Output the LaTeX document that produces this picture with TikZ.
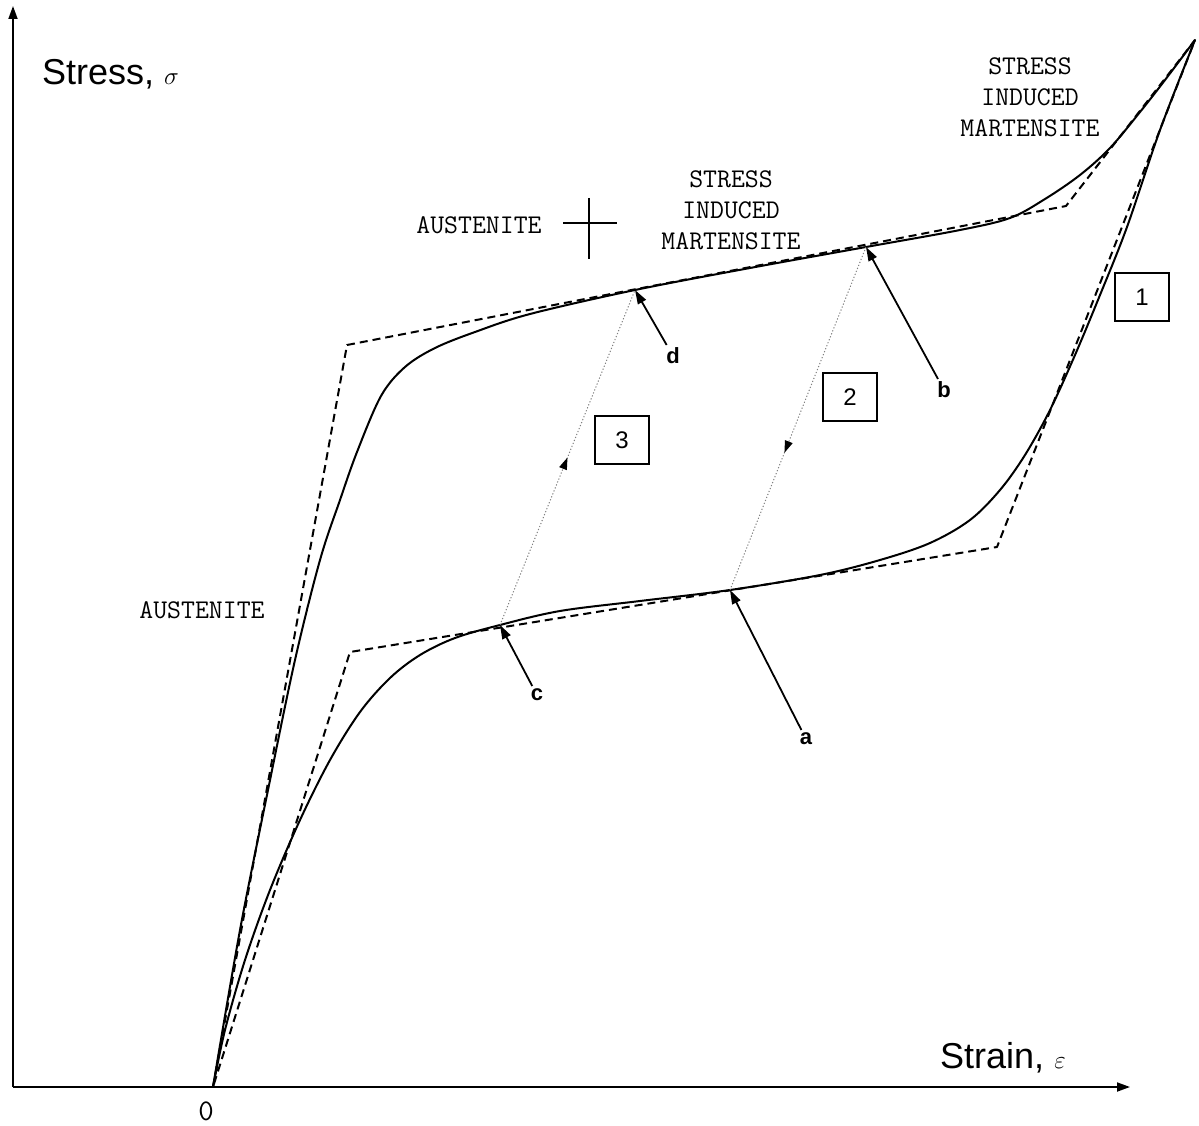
\documentclass[tikz,border=0pt]{standalone}
\usepackage{fontspec}
\setmainfont{Liberation Sans}
\usetikzlibrary{arrows.meta,decorations.markings}

\begin{document}
\begin{tikzpicture}[x=1pt,y=-1pt,
  axis/.style={line width=1.8pt,-{Triangle[length=13pt,width=9pt]}},
  real/.style={line width=2pt,line join=round},
  ideal/.style={line width=2pt,dash pattern=on 8pt off 5pt,line join=round},
  transit/.style={gray,line width=1pt,dash pattern=on 1.2pt off 2pt,
    postaction={decorate},
    decoration={markings,mark=at position #1 with {\arrow[black]{Triangle[length=12pt,width=8pt]}}}},
  pointer/.style={line width=1.8pt,-{Triangle[length=14pt,width=9pt]},shorten <=2pt},
  phase/.style={font=\ttfamily\fontsize{27}{31}\selectfont,align=center,inner sep=0pt},
  tag/.style={font=\bfseries\fontsize{22}{24}\selectfont,inner sep=1pt},
  numbox/.style={draw,line width=1.4pt,font=\fontsize{24}{26}\selectfont,
    minimum width=54pt,minimum height=48pt,inner sep=0pt},
  axislabel/.style={font=\fontsize{36}{40}\selectfont,anchor=base west,inner sep=0pt}
]
\useasboundingbox (0,0) rectangle (1199,1126);

% axes
\coordinate (corner) at (13,1087);
\coordinate (ytip) at (13,6);
\coordinate (xtip) at (1130,1087);
\draw[axis] (corner) -- (ytip);
\draw[axis] (corner) -- (xtip);
\node[axislabel] (ylab) at (42,85) {Stress, $\sigma$};
\node[axislabel] (xlab) at (940,1068) {Strain, $\varepsilon$};
\node[font=\ttfamily\fontsize{30}{32}\selectfont] (zero) at (206,1111) {0};

% key points
\coordinate (O) at (213,1087);
\coordinate (top) at (1195,40);
\coordinate (k1) at (347,345);
\coordinate (k2) at (1066,206);
\coordinate (k3) at (997,547);
\coordinate (k4) at (350,652);
\coordinate (pa) at (730,590);
\coordinate (pb) at (866,247);
\coordinate (pc) at (500,625);
\coordinate (pd) at (635,290);

% idealised (piecewise linear) loop
\draw[ideal] (O) -- (k1) -- (k2) -- (top) -- (k3) -- (k4) -- cycle;

% loading branch
\draw[real] plot[smooth,tension=0.55] coordinates {
  (213,1087) (240,930) (268,790) (295,660) (320,560) (340,500) (357,452)
  (381,396) (405,367) (435,348) (475,332) (530,314) (635,290) (750,268)
  (866,247) (960,230) (1010,218) (1045,199) (1080,175) (1110,148)
  (1140,112) (1165,80) (1195,40)};

% unloading branch
\draw[real] plot[smooth,tension=0.55] coordinates {
  (1195,40) (1160,130) (1127,227) (1100,295) (1075,355) (1050,410)
  (1025,455) (1000,490) (970,520) (930,543) (880,560) (820,575) (730,590)
  (640,601) (560,611) (500,625) (455,638) (420,655) (390,678) (360,712)
  (330,760) (300,820) (270,890) (245,960) (225,1030) (213,1087)};

% partial unloading / reloading paths
\draw[transit=0.6] (pb) -- (pa);
\draw[transit=0.5] (pc) -- (pd);

% phase labels
\node[phase] (sim1) at (1030,97) {STRESS\\INDUCED\\MARTENSITE};
\node[phase] (sim2) at (731,210) {STRESS\\INDUCED\\MARTENSITE};
\node[phase] (aus1) at (479,225) {AUSTENITE};
\node[phase] (aus2) at (202,610) {AUSTENITE};
\draw[line width=1.6pt] (563,223) -- (617,223);
\draw[line width=1.6pt] (589,198) -- (589,259);

% point tags
\node[tag] (ta) at (806,739) {a};
\node[tag] (tb) at (944,390) {b};
\node[tag] (tc) at (537,695) {c};
\node[tag] (td) at (673,356) {d};
\draw[pointer] (ta) -- (pa);
\draw[pointer] (tb) -- (pb);
\draw[pointer] (tc) -- (pc);
\draw[pointer] (td) -- (pd);

% path numbers
\node[numbox] (n1) at (1142,297) {1};
\node[numbox] (n2) at (850,397) {2};
\node[numbox] (n3) at (622,440) {3};
\end{tikzpicture}
\end{document}
